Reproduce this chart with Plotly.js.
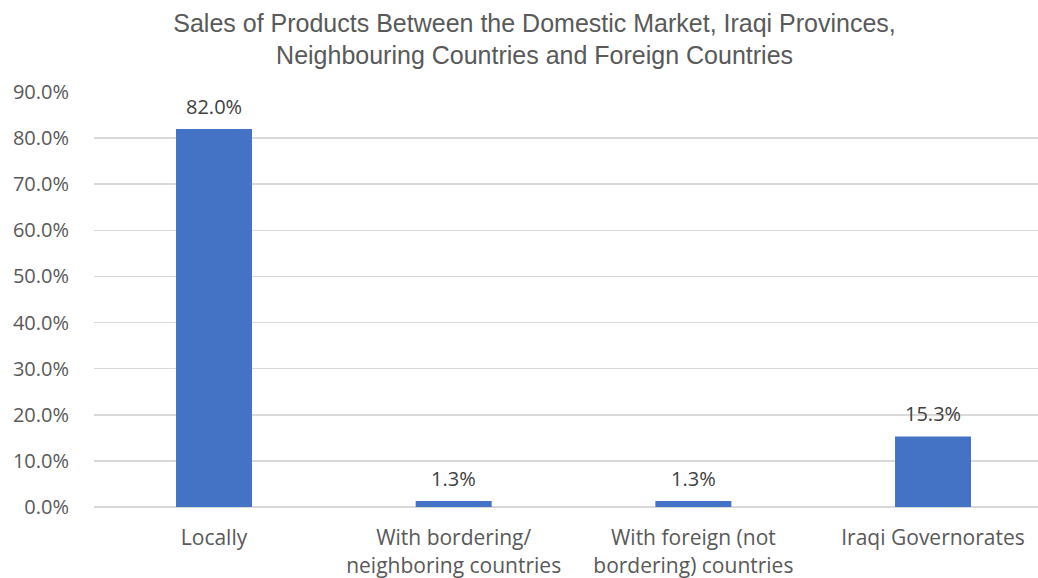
<!DOCTYPE html>
<html>
<head>
<meta charset="utf-8">
<script src="https://cdn.plot.ly/plotly-3.0.1.min.js"></script>
<style>html,body{margin:0;padding:0;background:#fff;}#chart{width:1038px;height:578px;}</style>
</head>
<body>
<div id="chart"></div>
<script>
const categories = ["Locally", "With bordering/<br>neighboring countries", "With foreign (not<br>bordering) countries", "Iraqi Governorates"];
const values = [82.0, 1.3, 1.3, 15.3];
const yTickValues = [0, 10, 20, 30, 40, 50, 60, 70, 80, 90];
const yTickLabels = ["0.0%", "10.0%", "20.0%", "30.0%", "40.0%", "50.0%", "60.0%", "70.0%", "80.0%", "90.0%"];
const titleText = "Sales of Products Between the Domestic Market, Iraqi Provinces,<br>Neighbouring Countries and Foreign Countries";

const trace = {
  type: "bar",
  x: categories,
  y: values,
  marker: {color: "#4472C4"},
  hoverinfo: "none"
};

const labels = categories.map((c, i) => ({
  x: c, y: values[i], xref: "x", yref: "y",
  text: values[i].toFixed(1) + "%",
  showarrow: false, xanchor: "center", yanchor: "bottom", yshift: 7,
  font: {family: "Open Sans, sans-serif", size: 20, color: "#404040"}
}));

const layout = {
  width: 1038, height: 578,
  margin: {l: 94, r: 0, t: 92, b: 71},
  paper_bgcolor: "#fff", plot_bgcolor: "#fff",
  bargap: 0.683,
  showlegend: false,
  annotations: labels,
  title: {
    text: titleText,
    font: {family: "Liberation Sans, Arial, sans-serif", size: 25, color: "#595959"},
    x: 0.515, xanchor: "center", y: 0.945, yanchor: "middle"
  },
  xaxis: {
    type: "category",
    range: [-0.5007, 3.438],
    showgrid: false, zeroline: false, showline: false,
    ticks: "outside", ticklen: 12, tickcolor: "rgba(0,0,0,0)",
    tickfont: {family: "Open Sans, sans-serif", size: 21, color: "#595959"},
    fixedrange: true
  },
  yaxis: {
    range: [0, 90],
    tickvals: yTickValues, ticktext: yTickLabels,
    showgrid: true, gridcolor: "#d9d9d9", gridwidth: 1.5,
    zeroline: true, zerolinecolor: "#d9d9d9", zerolinewidth: 1.5,
    showline: false,
    ticks: "outside", ticklen: 20, tickcolor: "rgba(0,0,0,0)",
    tickfont: {family: "Open Sans, sans-serif", size: 20, color: "#595959"},
    fixedrange: true
  }
};

Plotly.newPlot("chart", [trace], layout, {displayModeBar: false, staticPlot: true});
</script>
</body>
</html>
